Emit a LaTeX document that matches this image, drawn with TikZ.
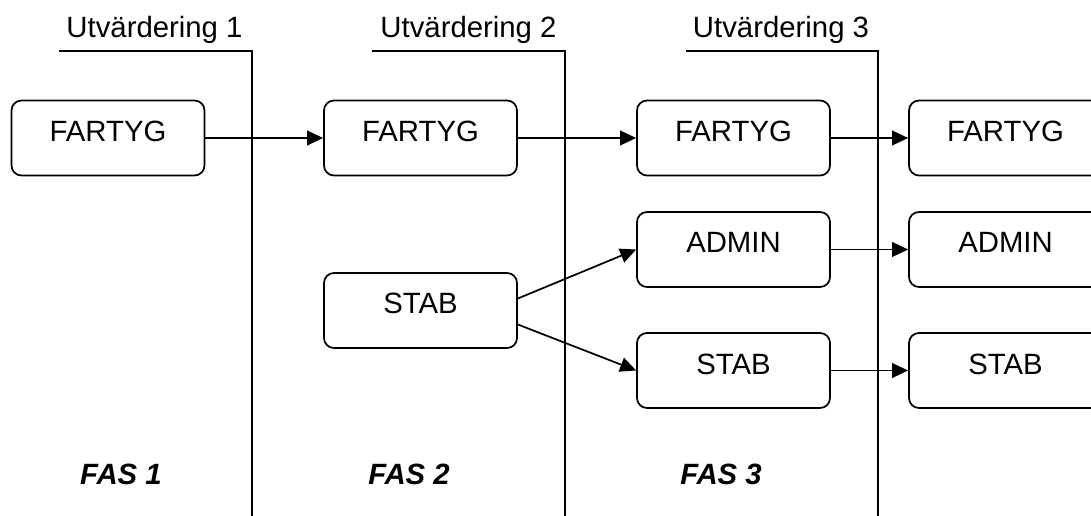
\documentclass[tikz,border=0pt]{standalone}
\usepackage{fontspec}
\setmainfont{Liberation Sans}
\usetikzlibrary{arrows.meta}
\begin{document}
\begin{tikzpicture}[x=0.75pt,y=-0.75pt,
  box/.style={draw, line width=1.3pt, rounded corners=7.5pt,
    minimum width=144.75pt, minimum height=56.25pt, inner sep=0pt,
    text height=15.75pt, text depth=10.5pt, font=\fontsize{22}{26}\selectfont},
  flow/.style={line width=1.3pt, -{Triangle[length=12pt,width=11pt]}},
  gate/.style={line width=1.3pt},
  gatelabel/.style={anchor=base, inner sep=0pt, font=\fontsize{22}{26}\selectfont},
  phase/.style={anchor=base, inner sep=0pt, font=\fontsize{22}{26}\selectfont\bfseries\itshape}]
\clip (0,0) rectangle (1091,516);

% evaluation gates between the phases
\node[gatelabel] (u1) at (154.5,38) {Utvärdering 1};
\node[gatelabel] (u2) at (468.5,38) {Utvärdering 2};
\node[gatelabel] (u3) at (781,38) {Utvärdering 3};
\coordinate (g1a) at (59,51);  \coordinate (g1b) at (252,51);  \coordinate (g1c) at (252,520);
\coordinate (g2a) at (372,51); \coordinate (g2b) at (565,51);  \coordinate (g2c) at (565,520);
\coordinate (g3a) at (686,51); \coordinate (g3b) at (878,51);  \coordinate (g3c) at (878,520);
\draw[gate] (g1a) -- (g1b) -- (g1c);
\draw[gate] (g2a) -- (g2b) -- (g2c);
\draw[gate] (g3a) -- (g3b) -- (g3c);

% organisation units per phase
\node[box] (f1) at (108,138) {FARTYG};
\node[box] (f2) at (420.5,138) {FARTYG};
\node[box] (s2) at (420.5,310.5) {STAB};
\node[box] (f3) at (733.5,138) {FARTYG};
\node[box] (a3) at (733.5,249.5) {ADMIN};
\node[box] (s3) at (733.5,370.5) {STAB};
\node[box] (f4) at (1005.5,138) {FARTYG};
\node[box] (a4) at (1005.5,249.5) {ADMIN};
\node[box] (s4) at (1005.5,370.5) {STAB};

% transitions
\draw[flow] (f1) -- (f2);
\draw[flow] (f2) -- (f3);
\draw[flow] (f3) -- (f4);
\draw[flow] (a3) -- (a4);
\draw[flow] (s3) -- (s4);
\draw[flow] ([yshift=9pt]s2.east) -- (a3.west);
\draw[flow] ([yshift=-10.5pt]s2.east) -- (s3.west);

% phase labels
\node[phase] (p1) at (121,484) {FAS 1};
\node[phase] (p2) at (409,484) {FAS 2};
\node[phase] (p3) at (721,484) {FAS 3};
\end{tikzpicture}
\end{document}
